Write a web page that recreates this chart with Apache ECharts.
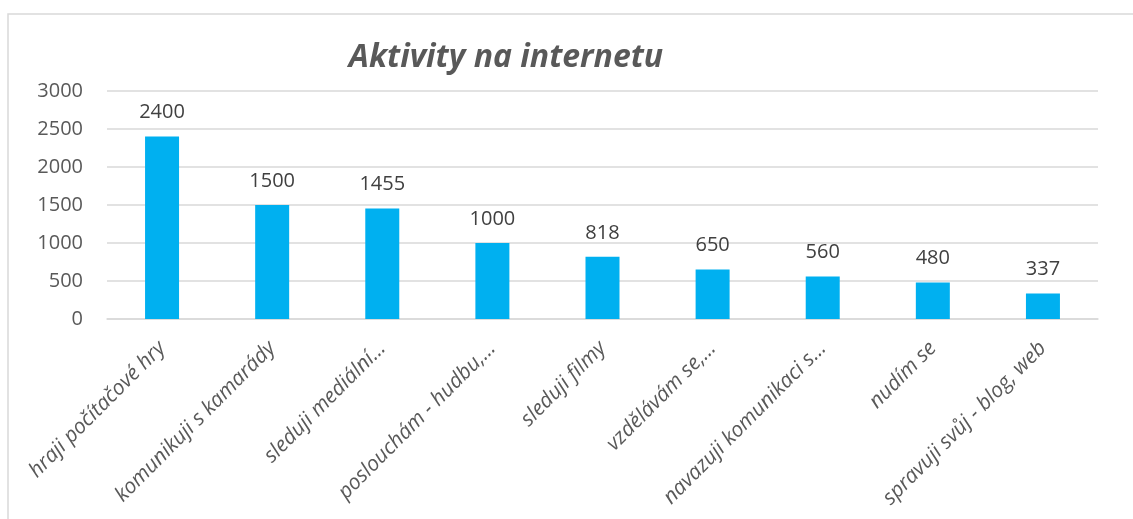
<!DOCTYPE html>
<html>
<head>
<meta charset="utf-8">
<script src="https://cdn.jsdelivr.net/npm/echarts@6/dist/echarts.min.js"></script>
<style>
html,body{margin:0;padding:0;background:#fff;}
#c{width:1133px;height:519px;}
</style>
</head>
<body>
<div id="c"></div>
<script>
const categories = [
  "hraji počítačové hry",
  "komunikuji s kamarády",
  "sleduji mediální…",
  "poslouchám - hudbu,…",
  "sleduji filmy",
  "vzdělávám se,…",
  "navazuji komunikaci s…",
  "nudím se",
  "spravuji svůj - blog, web"
];
const values = [2400, 1500, 1455, 1000, 818, 650, 560, 480, 337];
const yTicks = [0, 500, 1000, 1500, 2000, 2500, 3000];
const titleText = "Aktivity na internetu";

const chart = echarts.init(document.getElementById('c'), null, {renderer: 'canvas'});
const font = "'Open Sans', 'DejaVu Sans', sans-serif";
chart.setOption({
  animation: false,
  backgroundColor: '#ffffff',
  graphic: [{
    type: 'rect',
    shape: {x: 8, y: 14, width: 1140, height: 520},
    style: {fill: 'none', stroke: '#D9D9D9', lineWidth: 1.5},
    silent: true,
    z: -1
  }],
  title: {
    text: titleText,
    left: 501,
    top: 37,
    textAlign: 'center',
    textStyle: {
      fontFamily: font,
      fontSize: 32,
      fontWeight: 'bold',
      fontStyle: 'italic',
      color: '#595959'
    }
  },
  grid: {left: 107, right: 35, top: 91, bottom: 200, containLabel: false},
  xAxis: {
    type: 'category',
    data: categories,
    axisLine: {lineStyle: {color: '#D9D9D9', width: 1.5}},
    axisTick: {show: false},
    axisLabel: {
      interval: 0,
      rotate: 45,
      margin: 26,
      fontFamily: font,
      fontStyle: 'italic',
      fontSize: 21,
      color: '#595959'
    }
  },
  yAxis: {
    type: 'value',
    min: yTicks[0],
    max: yTicks[yTicks.length - 1],
    interval: 500,
    axisLine: {show: false},
    axisTick: {show: false},
    splitLine: {lineStyle: {color: '#D9D9D9', width: 1.5}},
    axisLabel: {
      margin: 24,
      formatter: function (v) { return String(v); },
      fontFamily: font,
      fontSize: 20,
      color: '#595959'
    }
  },
  series: [{
    type: 'bar',
    data: values,
    barWidth: 34,
    itemStyle: {color: '#00B0F0'},
    label: {
      show: true,
      position: 'top',
      distance: 14,
      fontFamily: font,
      fontSize: 20,
      color: '#404040'
    }
  }]
});
</script>
</body>
</html>
